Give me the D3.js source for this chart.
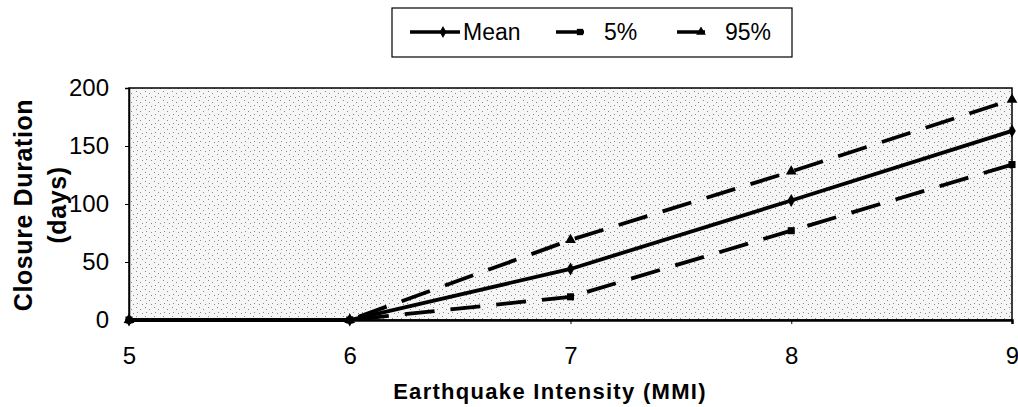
<!DOCTYPE html>
<html lang="en">
<head>
<meta charset="utf-8">
<title>Closure Duration</title>
<script src="https://cdn.jsdelivr.net/npm/d3@7"></script>
<style>
  body { margin: 0; background: #fff; }
  text { font-family: "Liberation Sans", Arial, sans-serif; }
</style>
</head>
<body>
<script>
// data
var intensity = [5, 6, 7, 8, 9];
var meanVals = [0, 0, 44, 103, 163];
var p5Vals = [0, 0, 20, 77, 134];
var p95Vals = [0, 0, 69, 128, 190];
var yTicks = [0, 50, 100, 150, 200];
var xTicks = [5, 6, 7, 8, 9];

var w = 1018, h = 407;
var mLeft = 129, mRight = 1012, mTop = 88, mBottom = 320;

var svg = d3.select("body").append("svg")
    .attr("width", w).attr("height", h);

// stipple background
var defs = svg.append("defs");
var pat = defs.append("pattern")
    .attr("id", "stip")
    .attr("width", 9).attr("height", 9)
    .attr("patternUnits", "userSpaceOnUse");
pat.append("rect").attr("width", 9).attr("height", 9).attr("fill", "#f6f6f6");
[[1, 1], [5, 3], [2, 6], [7, 7]].forEach(function (p) {
    pat.append("rect").attr("x", p[0]).attr("y", p[1])
        .attr("width", 1).attr("height", 1).attr("fill", "#8a8a8a");
});

var x = d3.scaleLinear().domain([5, 9]).range([mLeft, mRight]);
var y = d3.scaleLinear().domain([0, 200]).range([mBottom, mTop]);

svg.append("rect")
    .attr("x", mLeft).attr("y", mTop)
    .attr("width", mRight - mLeft).attr("height", mBottom - mTop)
    .attr("fill", "url(#stip)")
    .attr("stroke", "#000").attr("stroke-width", 1.5);

// axes
svg.append("g")
    .attr("transform", "translate(" + mLeft + ",0)")
    .call(d3.axisLeft(y).tickValues(yTicks).tickSize(4).tickPadding(16))
    .call(function (g) {
        g.select(".domain").attr("stroke-width", 1.5);
        g.selectAll("text").attr("font-size", 24).attr("fill", "#000");
    });

svg.append("g")
    .attr("transform", "translate(0," + mBottom + ")")
    .call(d3.axisBottom(x).tickValues(xTicks).tickSize(4).tickPadding(23)
        .tickFormat(d3.format("d")))
    .call(function (g) {
        g.select(".domain").attr("stroke-width", 2.5);
        g.selectAll("text").attr("font-size", 24).attr("fill", "#000");
    });

// lines
var line = d3.line()
    .x(function (d) { return x(d[0]); })
    .y(function (d) { return y(d[1]); });

var series = [
    { name: "Mean", vals: meanVals, dash: null, sym: d3.symbolDiamond },
    { name: "5%", vals: p5Vals, dash: "30,16", sym: d3.symbolSquare },
    { name: "95%", vals: p95Vals, dash: "30,16", sym: d3.symbolTriangle }
];

series.forEach(function (s) {
    var pts = intensity.map(function (v, i) { return [v, s.vals[i]]; });
    svg.append("path")
        .datum(pts)
        .attr("d", line)
        .attr("fill", "none")
        .attr("stroke", "#000")
        .attr("stroke-width", 3.8)
        .attr("stroke-dasharray", s.dash);
    svg.selectAll(null)
        .data(pts)
        .enter()
        .append("path")
        .attr("d", d3.symbol().type(s.sym).size(50))
        .attr("transform", function (d) {
            return "translate(" + x(d[0]) + "," + y(d[1]) + ")";
        })
        .attr("fill", "#000");
});

// legend
var lg = svg.append("g");
lg.append("rect")
    .attr("x", 392).attr("y", 8).attr("width", 400).attr("height", 49)
    .attr("fill", "#fff").attr("stroke", "#000").attr("stroke-width", 1.2);

var items = [
    { s: series[0], x1: 410, x2: 460, tx: 463 },
    { s: series[1], x1: 556, x2: 584, tx: 604 },
    { s: series[2], x1: 677, x2: 705, tx: 725 }
];
items.forEach(function (it) {
    lg.append("line")
        .attr("x1", it.x1).attr("x2", it.x2)
        .attr("y1", 32).attr("y2", 32)
        .attr("stroke", "#000").attr("stroke-width", 3.5);
    lg.append("path")
        .attr("d", d3.symbol().type(it.s.sym).size(40))
        .attr("transform", "translate(" + (it.s.dash ? it.x2 - 4 : (it.x1 + it.x2) / 2 + 8) + ",32)")
        .attr("fill", "#000");
    lg.append("text")
        .attr("x", it.tx).attr("y", 40)
        .attr("font-size", 23)
        .text(it.s.name);
});

// axis titles
svg.append("text")
    .attr("x", 550).attr("y", 399)
    .attr("text-anchor", "middle")
    .attr("font-size", 22).attr("font-weight", "bold")
    .attr("letter-spacing", 1.3)
    .text("Earthquake Intensity (MMI)");

var yt = svg.append("text")
    .attr("transform", "translate(32,205) rotate(-90)")
    .attr("text-anchor", "middle")
    .attr("font-size", 25).attr("font-weight", "bold")
    .attr("letter-spacing", 0.6);
yt.append("tspan").attr("x", 0).attr("dy", 0).text("Closure Duration");
yt.append("tspan").attr("x", 0).attr("dy", 34).text("(days)");
</script>
</body>
</html>
